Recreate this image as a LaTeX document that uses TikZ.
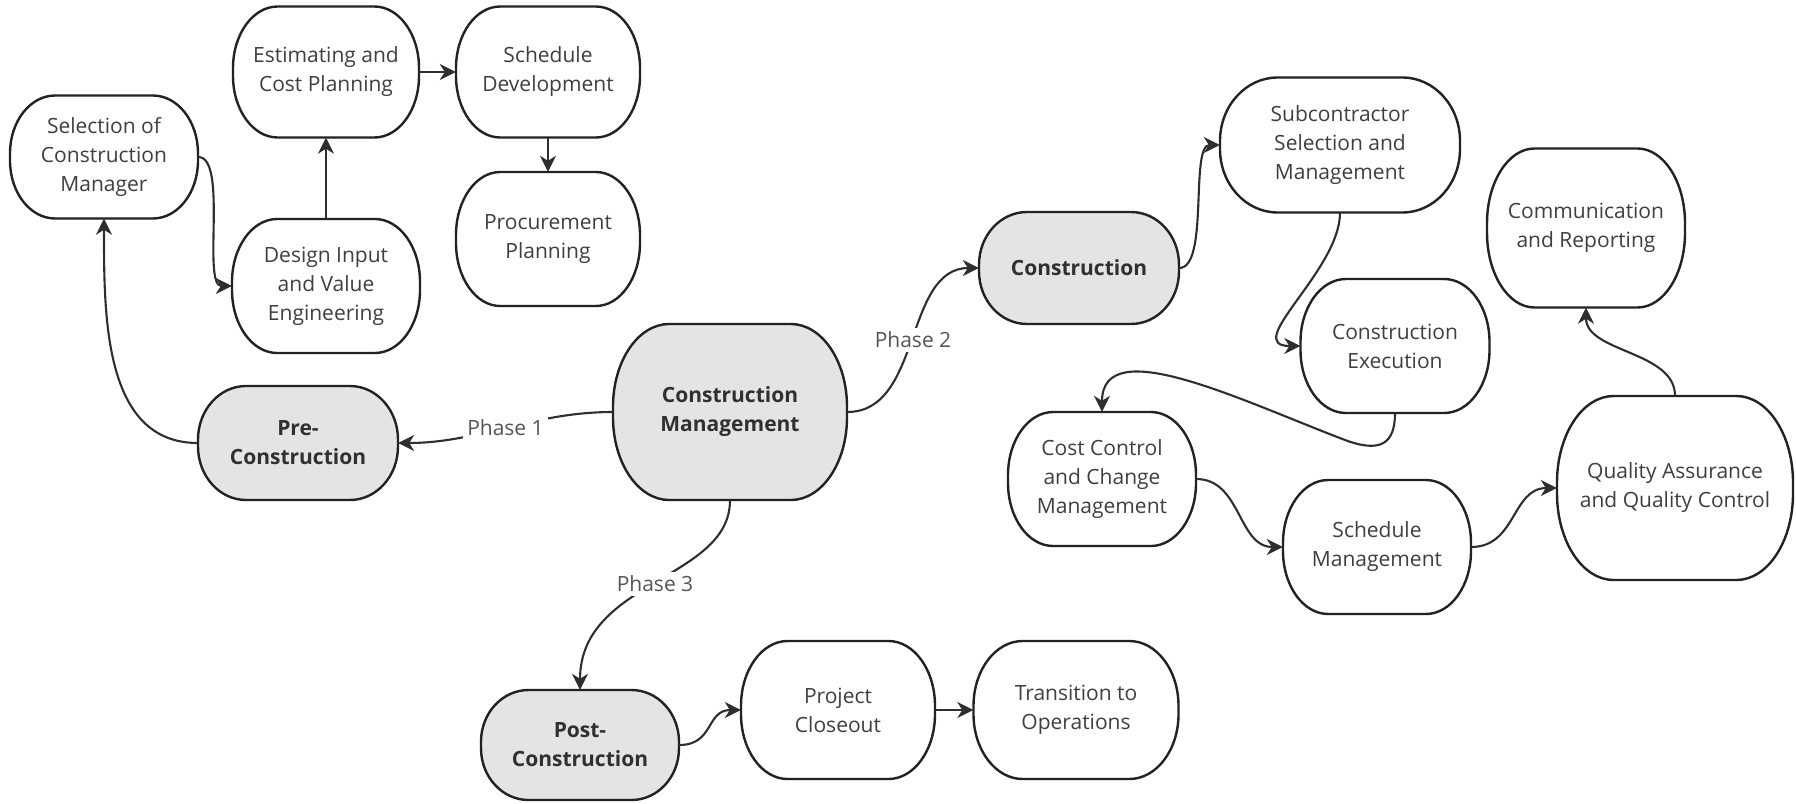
\documentclass[tikz,border=0pt]{standalone}
\usepackage{fontspec}
\setmainfont{Open Sans}
\usetikzlibrary{arrows.meta}
\definecolor{edgec}{HTML}{222222}
\definecolor{linec}{HTML}{2E2E2E}
\definecolor{fillg}{HTML}{E4E4E4}
\definecolor{txtc}{HTML}{3F3F3F}
\definecolor{boldc}{HTML}{303030}
\definecolor{lblc}{HTML}{555555}
\newcommand\fnreg{\fontsize{21}{29}\selectfont}
\newcommand\fnbld{\fontsize{21}{29}\selectfont\bfseries}
\tikzset{
 boxline/.style={draw=edgec,line width=2.4pt},
 plainbox/.style={boxline,fill=white},
 keybox/.style={boxline,fill=fillg},
 boxtext/.style={inner sep=0pt,align=center,text=txtc,font=\fnreg},
 keytext/.style={inner sep=0pt,align=center,text=boldc,font=\fnbld},
 conn/.style={draw=linec,line width=2.1pt,-{Stealth[length=16pt,width=16pt,inset=5pt]}},
 phase/.style={fill=white,text=lblc,font=\fnreg,inner sep=4pt},
}
% #1 name, #2 x, #3 y, #4 w, #5 h, #6 outline style, #7 text style, #8 text
\newcommand\blob[8]{%
 \pgfmathsetmacro\bL{#2-#4/2}\pgfmathsetmacro\bR{#2+#4/2}%
 \pgfmathsetmacro\bT{#3-#5/2}\pgfmathsetmacro\bB{#3+#5/2}%
 \pgfmathsetmacro\brx{0.24*#4}\pgfmathsetmacro\bry{0.47*#5}%
 \pgfmathsetmacro\ba{0.4477*\brx}\pgfmathsetmacro\bb{0.4477*\bry}%
 \path[#6] (\bL+\brx,\bT) -- (\bR-\brx,\bT) .. controls (\bR-\ba,\bT) and (\bR,\bT+\bb) .. (\bR,\bT+\bry) -- (\bR,\bB-\bry) .. controls (\bR,\bB-\bb) and (\bR-\ba,\bB) .. (\bR-\brx,\bB) -- (\bL+\brx,\bB) .. controls (\bL+\ba,\bB) and (\bL,\bB-\bb) .. (\bL,\bB-\bry) -- (\bL,\bT+\bry) .. controls (\bL,\bT+\bb) and (\bL+\ba,\bT) .. (\bL+\brx,\bT) -- cycle;
 \node[#7,minimum width=#4pt,minimum height=#5pt] (#1) at (#2,#3) {#8};
}
\begin{document}
\begin{tikzpicture}[x=1pt,y=-1pt]
\useasboundingbox (0,0) rectangle (1796,803);
% nodes
\blob{sel}{104}{157}{188}{123}{plainbox}{boxtext}{Selection of\\Construction\\Manager}
\blob{est}{326}{72}{186}{131}{plainbox}{boxtext}{Estimating and\\Cost Planning}
\blob{sdev}{548}{72}{184}{131}{plainbox}{boxtext}{Schedule\\Development}
\blob{proc}{548}{239}{184}{134}{plainbox}{boxtext}{Procurement\\Planning}
\blob{des}{326}{286}{188}{134}{plainbox}{boxtext}{Design Input\\and Value\\Engineering}
\blob{pre}{298}{443}{200}{114}{keybox}{keytext}{Pre-\\Construction}
\blob{cm}{730}{412}{234}{176}{keybox}{keytext}{Construction\\Management}
\blob{con}{1079}{268}{200}{112}{keybox}{keytext}{Construction}
\blob{sub}{1340}{145}{240}{135}{plainbox}{boxtext}{Subcontractor\\Selection and\\Management}
\blob{comm}{1586}{228}{198}{159}{plainbox}{boxtext}{Communication\\and Reporting}
\blob{exe}{1395}{346}{189}{134}{plainbox}{boxtext}{Construction\\Execution}
\blob{cost}{1102}{479}{188}{134}{plainbox}{boxtext}{Cost Control\\and Change\\Management}
\blob{smg}{1377}{547}{188}{134}{plainbox}{boxtext}{Schedule\\Management}
\blob{qa}{1675}{488}{236}{184}{plainbox}{boxtext}{Quality Assurance\\and Quality Control}
\blob{post}{580}{745}{198}{110}{keybox}{keytext}{Post-\\Construction}
\blob{clo}{838}{710}{194}{138}{plainbox}{boxtext}{Project\\Closeout}
\blob{tra}{1076}{710}{205}{138}{plainbox}{boxtext}{Transition to\\Operations}
\coordinate (bend) at (1345,440);
% connectors
\draw[conn] (cm.west) .. controls +(-80,0) and +(80,0) .. (pre.east) node[pos=0.5,phase]{Phase 1};
\draw[conn] (cm.east) .. controls +(75,0) and +(-75,0) .. (con.west) node[pos=0.5,phase]{Phase 2};
\draw[conn] (cm.south) .. controls +(0,80) and +(0,-110) .. (post.north) node[pos=0.5,phase]{Phase 3};
\draw[conn] (pre.west) .. controls +(-95,0) and +(0,95) .. (sel.south);
\draw[conn] (sel.east) .. controls +(30,0) and +(-30,0) .. (des.west);
\draw[conn] (des.north) -- (est.south);
\draw[conn] (est.east) -- (sdev.west);
\draw[conn] (sdev.south) -- (proc.north);
\draw[conn] (con.east) .. controls +(30,0) and +(-30,0) .. (sub.west);
\draw[conn] (sub.south) .. controls +(0,58) and +(-60,0) .. (exe.west);
\draw[conn] (exe.south) .. controls +(0,31) and +(35,13) .. (bend) .. controls +(-105,-40) and +(0,-80) .. (cost.north);
\draw[conn] (cost.east) .. controls +(45,0) and +(-45,0) .. (smg.west);
\draw[conn] (smg.east) .. controls +(45,0) and +(-45,0) .. (qa.west);
\draw[conn] (qa.north) .. controls +(0,-45) and +(0,45) .. (comm.south);
\draw[conn] (post.east) .. controls +(35,0) and +(-35,0) .. (clo.west);
\draw[conn] (clo.east) -- (tra.west);
\end{tikzpicture}
\end{document}
